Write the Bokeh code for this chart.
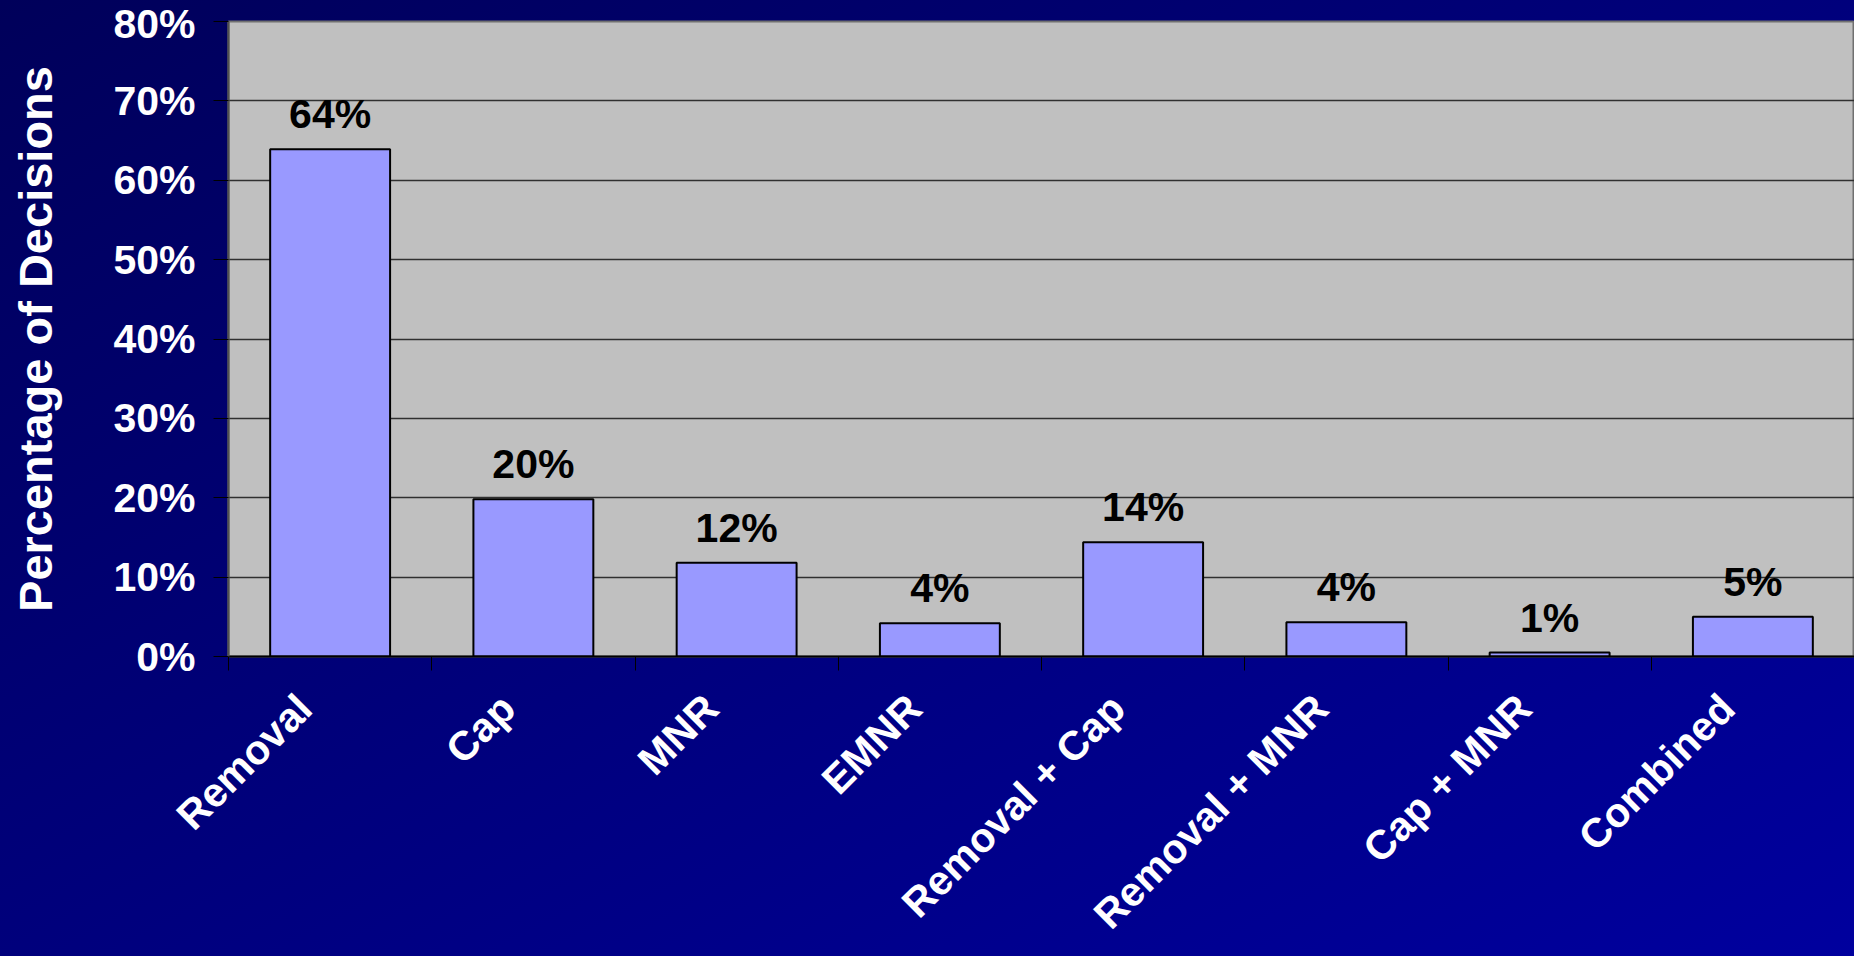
from bokeh.plotting import figure
from bokeh.models import (FixedTicker, PrintfTickFormatter, CustomJSTickFormatter,
                          ColumnDataSource, LabelSet, Range1d, LinearAxis)
from bokeh.core.properties import value
from bokeh.embed import file_html
from bokeh.resources import INLINE
import math

categories = ["Removal", "Cap", "MNR", "EMNR", "Removal + Cap",
              "Removal + MNR", "Cap + MNR", "Combined"]
values = [63.9, 19.8, 11.8, 4.2, 14.4, 4.3, 0.5, 5.0]
value_labels = ["64%", "20%", "12%", "4%", "14%", "4%", "1%", "5%"]
y_ticks = [0, 10, 20, 30, 40, 50, 60, 70, 80]

FONT = "Liberation Sans"

xpos = [i + 0.5 for i in range(len(categories))]
src = ColumnDataSource(dict(x=xpos, top=values, lab=value_labels))

p = figure(width=1854, height=956, output_backend="svg", toolbar_location=None,
           x_range=Range1d(0, len(categories)), y_range=Range1d(0, 80),
           min_border_left=228, min_border_right=0, min_border_top=21,
           min_border_bottom=300, x_axis_location=None)

p.styles = {"background": "linear-gradient(to bottom right, #00005A, #00009E)"}
p.border_fill_color = None
p.background_fill_color = "#C0C0C0"
p.outline_line_color = "#707070"
p.outline_line_width = 2

p.vbar(x="x", top="top", width=0.59, bottom=0, source=src,
       fill_color="#9999FF", line_color="black", line_width=2)

labels = LabelSet(x="x", y="top", text="lab", source=src, y_offset=21,
                  text_align="center", text_baseline="alphabetic",
                  text_font=value(FONT), text_font_style="bold",
                  text_font_size="41px", text_color="black")
p.add_layout(labels)

# y axis
ya = p.yaxis[0]
ya.ticker = FixedTicker(ticks=y_ticks)
ya.formatter = PrintfTickFormatter(format="%d%%")
ya.major_label_text_font = FONT
ya.major_label_text_font_style = "bold"
ya.major_label_text_font_size = "41px"
ya.major_label_text_color = "white"
ya.major_label_standoff = 18
ya.major_tick_out = 15
ya.major_tick_in = 0
ya.major_tick_line_color = "black"
ya.minor_tick_line_color = None
ya.axis_line_color = "#505050"
ya.axis_line_width = 2
ya.axis_label = "Percentage of Decisions"
ya.axis_label_text_font = FONT
ya.axis_label_text_font_style = "bold"
ya.axis_label_text_font_size = "47px"
ya.axis_label_text_color = "white"
ya.axis_label_standoff = 48

p.ygrid.ticker = FixedTicker(ticks=y_ticks)
p.ygrid.grid_line_color = "#303030"
p.ygrid.grid_line_width = 1.3
p.xgrid.grid_line_color = None

# x axis: category labels (rotated) + boundary tick marks as minor ticks
xa = LinearAxis()
xa.ticker = FixedTicker(ticks=[i + 0.375 for i in range(len(categories))],
                        minor_ticks=list(range(len(categories) + 1)))
xa.formatter = CustomJSTickFormatter(args=dict(cats=categories),
                                     code="return cats[Math.floor(tick)] || '';")
xa.major_tick_out = 0
xa.major_tick_in = 0
xa.major_tick_line_color = None
xa.minor_tick_out = 14
xa.minor_tick_in = 0
xa.minor_tick_line_color = "black"
xa.axis_line_color = "black"
xa.axis_line_width = 2
xa.major_label_orientation = math.pi / 4
xa.major_label_standoff = 31
xa.major_label_text_font = FONT
xa.major_label_text_font_style = "bold"
xa.major_label_text_font_size = "41px"
xa.major_label_text_color = "white"
p.add_layout(xa, "below")

open("out.html", "w").write(file_html(p, INLINE))
